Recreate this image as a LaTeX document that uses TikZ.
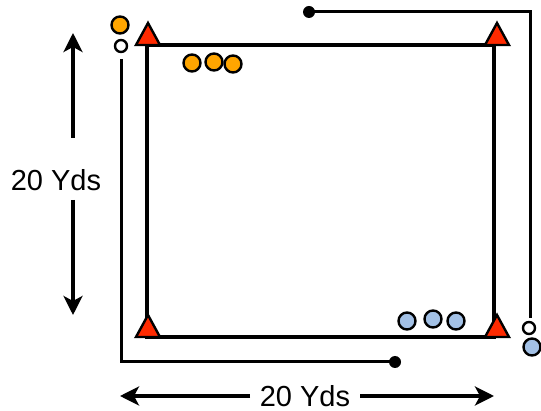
\documentclass[tikz,border=0pt]{standalone}
\usepackage{fontspec}
\setmainfont{Liberation Sans}
\usetikzlibrary{arrows.meta}
\definecolor{conered}{HTML}{FF2A00}
\definecolor{orangeball}{HTML}{FFA500}
\definecolor{blueball}{HTML}{A3C1E6}
\begin{document}
\begin{tikzpicture}[x=1pt,y=-1pt,
  field/.style={line width=3.2pt},
  cone/.style={draw=black,fill=conered,line width=2.4pt,line join=miter},
  ballo/.style={circle,draw=black,fill=orangeball,line width=2.4pt,minimum size=17pt,inner sep=0pt},
  ballb/.style={circle,draw=black,fill=blueball,line width=2.4pt,minimum size=17pt,inner sep=0pt},
  ballw/.style={circle,draw=black,fill=white,line width=2.4pt,minimum size=12pt,inner sep=0pt},
  dotn/.style={circle,fill=black,minimum size=12pt,inner sep=0pt},
  path/.style={line width=3pt},
  dim/.style={line width=3.4pt,-{Stealth[length=19pt,width=19pt,inset=5pt]}},
  lbl/.style={font=\fontsize{29}{30}\selectfont,inner sep=0pt}]
\useasboundingbox (0,0) rectangle (541,411);
% field
\coordinate (tl) at (147,45);
\coordinate (tr) at (494,45);
\coordinate (br) at (494,337);
\coordinate (bl) at (147,337);
\draw[field] (tl) -- (tr) -- (br) -- (bl) -- cycle;
% cones
\foreach \n/\x/\y in {c1/148/45,c2/497/45,c3/497/337,c4/148/337}{
  \draw[cone] (\x-12,\y) -- (\x,\y-22) -- (\x+12,\y) -- cycle;
}
% balls
\node[ballo] (o1) at (192,63) {};
\node[ballo] (o2) at (214,62) {};
\node[ballo] (o3) at (233,64) {};
\node[ballo] (o0) at (120,25) {};
\node[ballw] (w1) at (121,46) {};
\node[ballb] (b1) at (407,321) {};
\node[ballb] (b2) at (433,319) {};
\node[ballb] (b3) at (456,321) {};
\node[ballw] (w2) at (529,328) {};
\node[ballb] (b0) at (532,347) {};
% runs
\node[dotn] (d1) at (395,362) {};
\coordinate (l1) at (121,59);
\coordinate (l2) at (121,362);
\draw[path] (l1) -- (l2) -- (d1.center);
\node[dotn] (d2) at (309,12) {};
\coordinate (r1) at (530,12);
\coordinate (r2) at (530,318);
\draw[path] (d2.center) -- (r1) -- (r2);
% dimensions
\node[lbl] (tv) at (56,180) {20 Yds};
\coordinate (va) at (73,138);
\coordinate (vat) at (73,33);
\coordinate (vb) at (73,200);
\coordinate (vbt) at (73,315);
\draw[dim] (va) -- (vat);
\draw[dim] (vb) -- (vbt);
\node[lbl] (th) at (305,396) {20 Yds};
\coordinate (ha) at (250,396);
\coordinate (hat) at (120,396);
\coordinate (hb) at (360,396);
\coordinate (hbt) at (494,396);
\draw[dim] (ha) -- (hat);
\draw[dim] (hb) -- (hbt);
\end{tikzpicture}
\end{document}
